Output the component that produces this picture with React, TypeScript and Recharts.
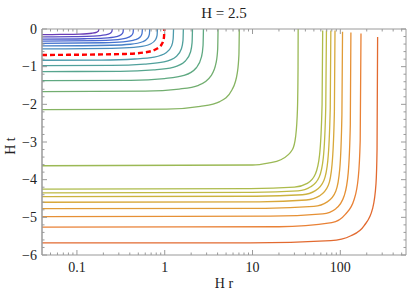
import React from 'react';
import { LineChart, Line, XAxis, YAxis } from 'recharts';

type Pt = [number, number];

// x = H r (log axis), y = H t
const xDomain: [number, number] = [0.04, 560];
const yDomain: [number, number] = [-6, 0];
const xMajorTicks = [0.1, 1, 10, 100];
const xMinorTicks = [0.05, 0.06, 0.07, 0.08, 0.09, 0.2, 0.3, 0.4, 0.5, 0.6, 0.7, 0.8, 0.9, 2, 3, 4, 5, 6, 7, 8, 9, 20, 30, 40, 50, 60, 70, 80, 90, 200, 300, 400, 500];
const yMajorTicks = [-6, -5, -4, -3, -2, -1, 0];
const yMinorTicks = [-5.8, -5.6, -5.4, -5.2, -4.8, -4.6, -4.4, -4.2, -3.8, -3.6, -3.4, -3.2, -2.8, -2.6, -2.4, -2.2, -1.8, -1.6, -1.4, -1.2, -0.8, -0.6, -0.4, -0.2];

const c01: Pt[] = [[0.04, -0.15], [0.064, -0.144], [0.107, -0.135], [0.148, -0.113], [0.169, -0.081], [0.176, -0.048], [0.178, 0]];
const c02: Pt[] = [[0.04, -0.21], [0.091, -0.202], [0.152, -0.189], [0.21, -0.158], [0.24, -0.113], [0.25, -0.067], [0.253, 0]];
const c03: Pt[] = [[0.04, -0.27], [0.122, -0.259], [0.203, -0.243], [0.281, -0.203], [0.321, -0.146], [0.335, -0.086], [0.338, 0]];
const c04: Pt[] = [[0.04, -0.32], [0.158, -0.307], [0.264, -0.288], [0.365, -0.24], [0.418, -0.173], [0.436, -0.102], [0.44, 0]];
const c05: Pt[] = [[0.04, -0.38], [0.2, -0.365], [0.334, -0.342], [0.462, -0.285], [0.529, -0.205], [0.551, -0.122], [0.557, 0]];
const c06: Pt[] = [[0.04, -0.45], [0.243, -0.432], [0.405, -0.405], [0.56, -0.338], [0.641, -0.243], [0.668, -0.144], [0.675, 0]];
const c07: Pt[] = [[0.04, -0.53], [0.297, -0.509], [0.496, -0.477], [0.686, -0.398], [0.785, -0.286], [0.818, -0.17], [0.826, 0]];
const cRed: Pt[] = [[0.04, -0.69], [0.356, -0.662], [0.594, -0.621], [0.822, -0.518], [0.94, -0.373], [0.98, -0.221], [0.99, 0]];
const c09: Pt[] = [[0.04, -0.83], [0.19, -0.825], [0.454, -0.797], [0.756, -0.747], [1.046, -0.623], [1.197, -0.448], [1.247, -0.266], [1.26, 0]];
const c10: Pt[] = [[0.04, -0.97], [0.245, -0.965], [0.587, -0.931], [0.978, -0.873], [1.353, -0.728], [1.549, -0.524], [1.614, -0.31], [1.63, 0]];
const c11: Pt[] = [[0.04, -1.13], [0.31, -1.124], [0.745, -1.085], [1.242, -1.017], [1.718, -0.848], [1.967, -0.61], [2.049, -0.362], [2.07, 0]];
const c12: Pt[] = [[0.04, -1.37], [0.41, -1.363], [0.994, -1.315], [1.656, -1.233], [2.291, -1.028], [2.622, -0.74], [2.732, -0.438], [2.76, 0]];
const c13: Pt[] = [[0.04, -1.66], [0.6, -1.65], [1.458, -1.594], [2.43, -1.494], [3.362, -1.245], [3.848, -0.896], [4.01, -0.531], [4.05, 0]];
const c14: Pt[] = [[0.04, -2.14], [1.05, -2.128], [2.545, -2.054], [4.242, -1.926], [5.868, -1.605], [6.717, -1.156], [7.0, -0.685], [7.07, 0]];
const c15: Pt[] = [[0.04, -3.63], [10, -3.61], [15, -3.56], [21, -3.47], [28.5, -3.2], [31, -2.85], [32.5, -2.13], [33, -1.0], [33.1, 0]];
const c16: Pt[] = [[0.04, -4.25], [9.5, -4.24], [30, -4.2], [42, -4.1], [52, -3.85], [58, -3.35], [62, -2.0], [63, -0.04]];
const c17: Pt[] = [[0.04, -4.35], [10, -4.34], [33, -4.3], [46, -4.19], [57.5, -3.93], [64, -3.42], [68.3, -2.05], [69.5, -0.04]];
const c18: Pt[] = [[0.04, -4.45], [11, -4.44], [37, -4.4], [52, -4.29], [65, -4.02], [72, -3.5], [76.8, -2.1], [78, -0.04]];
const c19: Pt[] = [[0.04, -4.6], [12, -4.59], [41, -4.54], [58, -4.43], [73, -4.15], [80.5, -3.6], [85.6, -2.2], [87, -0.04]];
const c20: Pt[] = [[0.04, -4.77], [14, -4.76], [50, -4.71], [71, -4.59], [89, -4.3], [98.5, -3.72], [104.3, -2.27], [106, -0.07]];
const c21: Pt[] = [[0.04, -4.98], [16, -4.97], [63, -4.91], [89, -4.77], [111, -4.42], [123, -3.82], [130, -2.53], [132, -0.09]];
const c22: Pt[] = [[0.04, -5.26], [20, -5.25], [80, -5.14], [114, -4.92], [143, -4.54], [160, -3.95], [168.5, -2.96], [172, -0.12]];
const c23: Pt[] = [[0.04, -5.68], [9.5, -5.68], [78, -5.62], [132, -5.49], [187, -5.22], [233, -4.77], [255, -4.1], [262, -3.2], [266, -0.21]];

const curves: Pt[][] = [c01, c02, c03, c04, c05, c06, c07, c09, c10, c11, c12, c13, c14, c15, c16, c17, c18, c19, c20, c21, c22, c23];
const curveColors = [
  '#6a3cb6', '#5b4bc4', '#4d5acd', '#4767d1', '#4574cf', '#4681c8', '#498dbd',
  '#4c9aab', '#50a09c', '#56a58e', '#5fa981', '#72ae70', '#86b462',
  '#9bb955', '#adbb4b', '#bfba44', '#ccb23e', '#d8a83a', '#e09c37', '#e69035', '#e98136', '#e26a30',
];

const PLOT_LEFT = 42;
const PLOT_RIGHT = 406;
const PLOT_TOP = 29;
const PLOT_BOTTOM = 255;
const FONT = '"Liberation Serif", "Times New Roman", serif';
const FRAME = '#9a9a9a';

const toObjs = (pts: Pt[]) => pts.map(([r, t]) => ({ r, t }));

const fmtY = (v: number) => (v === 0 ? '0' : '\u2212' + Math.abs(v));

const BottomTick = (props: any) => {
  const { x, payload } = props;
  const v = payload.value as number;
  const major = xMajorTicks.includes(v);
  const len = major ? 5 : 2.5;
  return (
    <g>
      <line x1={x} x2={x} y1={PLOT_BOTTOM} y2={PLOT_BOTTOM - len} stroke={FRAME} strokeWidth={1} />
      <line x1={x} x2={x} y1={PLOT_TOP} y2={PLOT_TOP + len} stroke={FRAME} strokeWidth={1} />
      {major && (
        <text x={x} y={PLOT_BOTTOM + 17} textAnchor="middle" fontFamily={FONT} fontSize={14} fill="#222">
          {String(v)}
        </text>
      )}
    </g>
  );
};

const LeftTick = (props: any) => {
  const { y, payload } = props;
  const v = payload.value as number;
  const major = yMajorTicks.includes(v);
  const len = major ? 5 : 2.5;
  return (
    <g>
      <line x1={PLOT_LEFT} x2={PLOT_LEFT + len} y1={y} y2={y} stroke={FRAME} strokeWidth={1} />
      <line x1={PLOT_RIGHT} x2={PLOT_RIGHT - len} y1={y} y2={y} stroke={FRAME} strokeWidth={1} />
      {major && (
        <text x={PLOT_LEFT - 5} y={y + 4.8} textAnchor="end" fontFamily={FONT} fontSize={14} fill="#222">
          {fmtY(v)}
        </text>
      )}
    </g>
  );
};

export default function App() {
  const xTicks = [...xMinorTicks, ...xMajorTicks].sort((a, b) => a - b);
  const yTicks = [...yMinorTicks, ...yMajorTicks].sort((a, b) => a - b);
  return (
    <div style={{ position: 'absolute', left: 0, top: 0, width: 407, height: 296, background: '#fff' }}>
      <LineChart width={407} height={296} margin={{ top: PLOT_TOP, right: 407 - PLOT_RIGHT, bottom: 0, left: 0 }}>
        <XAxis
          dataKey="r"
          type="number"
          scale="log"
          domain={xDomain}
          allowDataOverflow
          ticks={xTicks}
          interval={0}
          tick={<BottomTick />}
          tickLine={false}
          tickSize={0}
          tickMargin={0}
          height={296 - PLOT_BOTTOM}
          axisLine={{ stroke: FRAME, strokeWidth: 1.2 }}
        />
        <YAxis
          dataKey="t"
          type="number"
          domain={yDomain}
          allowDataOverflow
          ticks={yTicks}
          interval={0}
          tick={<LeftTick />}
          tickLine={false}
          tickSize={0}
          tickMargin={0}
          width={PLOT_LEFT}
          axisLine={{ stroke: FRAME, strokeWidth: 1.5 }}
        />
        {curves.map((c, i) => (
          <Line
            key={'c' + i}
            data={toObjs(c)}
            dataKey="t"
            type="monotoneX"
            stroke={curveColors[i]}
            strokeWidth={1.3}
            dot={false}
            isAnimationActive={false}
          />
        ))}
        <Line
          data={toObjs(cRed)}
          dataKey="t"
          type="monotoneX"
          stroke="#ff0000"
          strokeWidth={2.4}
          strokeDasharray="5 3"
          dot={false}
          isAnimationActive={false}
        />
      </LineChart>
      <svg width={407} height={296} style={{ position: 'absolute', left: 0, top: 0, pointerEvents: 'none' }}>
        <line x1={PLOT_LEFT} x2={PLOT_RIGHT} y1={PLOT_TOP} y2={PLOT_TOP} stroke={FRAME} strokeWidth={1} />
        <line x1={PLOT_RIGHT} x2={PLOT_RIGHT} y1={PLOT_TOP} y2={PLOT_BOTTOM} stroke={FRAME} strokeWidth={1} />
        <text x={224} y={18} textAnchor="middle" fontFamily={FONT} fontSize={15} fill="#222">H = 2.5</text>
        <text x={224} y={288} textAnchor="middle" fontFamily={FONT} fontSize={14} fill="#222">H r</text>
        <text x={15} y={146} textAnchor="middle" fontFamily={FONT} fontSize={14} fill="#222" transform="rotate(-90 15 146)">H t</text>
      </svg>
    </div>
  );
}
